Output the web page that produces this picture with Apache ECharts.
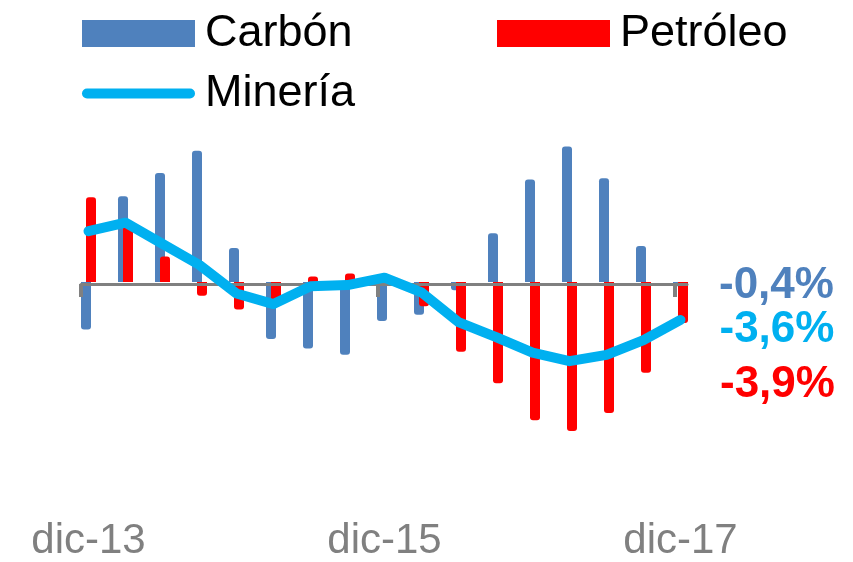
<!DOCTYPE html>
<html>
<head>
<meta charset="utf-8">
<title>Carbón, Petróleo y Minería</title>
<script src="https://cdn.jsdelivr.net/npm/echarts@6/dist/echarts.min.js"></script>
<style>
  html, body { margin: 0; padding: 0; background: #ffffff; }
  #chart { width: 853px; height: 562px; }
</style>
</head>
<body>
<div id="chart"></div>
<script>
// Quarterly annual variation (%), Dec-2013 to Dec-2017
const categories = ['dic-13', 'mar-14', 'jun-14', 'sep-14', 'dic-14', 'mar-15', 'jun-15', 'sep-15',
  'dic-15', 'mar-16', 'jun-16', 'sep-16', 'dic-16', 'mar-17', 'jun-17', 'sep-17', 'dic-17'];
const carbon = [-4.5, 8.1, 10.3, 12.4, 3.2, -5.4, -6.3, -6.9, -3.7, -3.1, -0.8, 4.6, 9.7, 12.8, 9.8, 3.4, -0.4];
const petroleo = [8.0, 5.3, 2.4, -1.3, -2.6, -2.2, 0.5, 0.8, 0.2, -2.3, -6.6, -9.6, -13.1, -14.1, -12.4, -8.6, -3.9];
const mineria = [4.8, 5.6, 3.6, 1.6, -1.1, -2.1, -0.4, -0.3, 0.4, -1.0, -3.8, -5.2, -6.7, -7.5, -6.9, -5.5, -3.6];

const FONT = '"Liberation Sans", Arial, sans-serif';
const BLUE = '#4F81BD', RED = '#FF0000', CYAN = '#00B0F0', GREY = '#808080';
const last = categories.length - 1;

function pct(v) {
  return v.toFixed(1).replace('.', ',') + '%';
}

const valueLabel = {
  formatter: p => pct(p.value),
  fontFamily: FONT,
  fontWeight: 'bold',
  fontSize: 44
};

// Bars get rounded ends only on the side away from zero; the last bar carries its value label
function barData(values, color, labelOpts) {
  return values.map((v, i) => {
    const item = {
      value: v,
      itemStyle: { borderRadius: v >= 0 ? [3, 3, 0, 0] : [0, 0, 3, 3] }
    };
    if (i === last) {
      item.label = Object.assign({ show: true, position: 'right', color: color }, valueLabel, labelOpts);
    }
    return item;
  });
}

const legendText = { fontSize: 45, color: '#000000', fontFamily: FONT, lineHeight: 45, padding: [0, 0, 0, 5] };
const pillIcon = 'path://M5,0 H108 A5,5 0 0 1 108,10 H5 A5,5 0 0 1 5,0 Z';

const chart = echarts.init(document.getElementById('chart'), null, { renderer: 'canvas' });
chart.setOption({
  animation: false,
  backgroundColor: '#ffffff',
  legend: [
    { data: [{ name: 'Carbón', icon: 'rect' }], left: 82, top: 11, padding: 0, itemWidth: 113, itemHeight: 27,
      selectedMode: false, textStyle: legendText },
    { data: [{ name: 'Petróleo', icon: 'rect' }], left: 497, top: 11, padding: 0, itemWidth: 113, itemHeight: 27,
      selectedMode: false, textStyle: legendText },
    { data: [{ name: 'Minería', icon: pillIcon }], left: 82, top: 71, padding: 0, itemWidth: 113, itemHeight: 10,
      selectedMode: false, textStyle: legendText, itemStyle: { borderWidth: 0 } }
  ],
  grid: [
    { left: 70, right: 154, top: 112.8, bottom: 106.8 },
    // thin grid that only carries the zero line with its tick marks
    { left: 81, right: 166, top: 184, height: 100 }
  ],
  xAxis: [
    {
      type: 'category',
      gridIndex: 0,
      data: categories,
      boundaryGap: true,
      axisLine: { show: false },
      axisTick: { show: false },
      axisLabel: {
        interval: 7,
        margin: 69,
        color: GREY,
        fontSize: 42,
        fontFamily: FONT
      },
      splitLine: { show: false }
    },
    {
      type: 'value',
      gridIndex: 1,
      min: 0,
      max: 606 / 297,
      interval: 1,
      z: 3,
      axisLine: { show: true, onZero: false, lineStyle: { color: GREY, width: 3 } },
      axisTick: { show: true, length: 13, customValues: [0, 1, 2], lineStyle: { color: GREY, width: 4 } },
      axisLabel: { show: false },
      splitLine: { show: false }
    }
  ],
  yAxis: [
    { type: 'value', gridIndex: 0, min: -16, max: 16, show: false, splitLine: { show: false } },
    { type: 'value', gridIndex: 1, min: 0, max: 1, show: false, splitLine: { show: false } }
  ],
  series: [
    {
      name: 'Carbón',
      type: 'bar',
      xAxisIndex: 0, yAxisIndex: 0,
      barWidth: 10,
      barGap: '-50%',
      itemStyle: { color: BLUE },
      z: 2,
      data: barData(carbon, BLUE, { distance: 36, offset: [0, 2] })
    },
    {
      name: 'Petróleo',
      type: 'bar',
      xAxisIndex: 0, yAxisIndex: 0,
      barWidth: 10,
      barGap: '-50%',
      itemStyle: { color: RED },
      z: 2,
      data: barData(petroleo, RED, { distance: 32, offset: [0, 82] })
    },
    {
      name: 'Minería',
      type: 'line',
      xAxisIndex: 0, yAxisIndex: 0,
      symbol: 'none',
      smooth: false,
      color: CYAN,
      itemStyle: { color: CYAN },
      lineStyle: { color: CYAN, width: 10, cap: 'round', join: 'round' },
      endLabel: Object.assign({ show: true, color: CYAN, distance: 39, offset: [0, 10] }, valueLabel),
      z: 4,
      data: mineria
    }
  ]
});
</script>
</body>
</html>
